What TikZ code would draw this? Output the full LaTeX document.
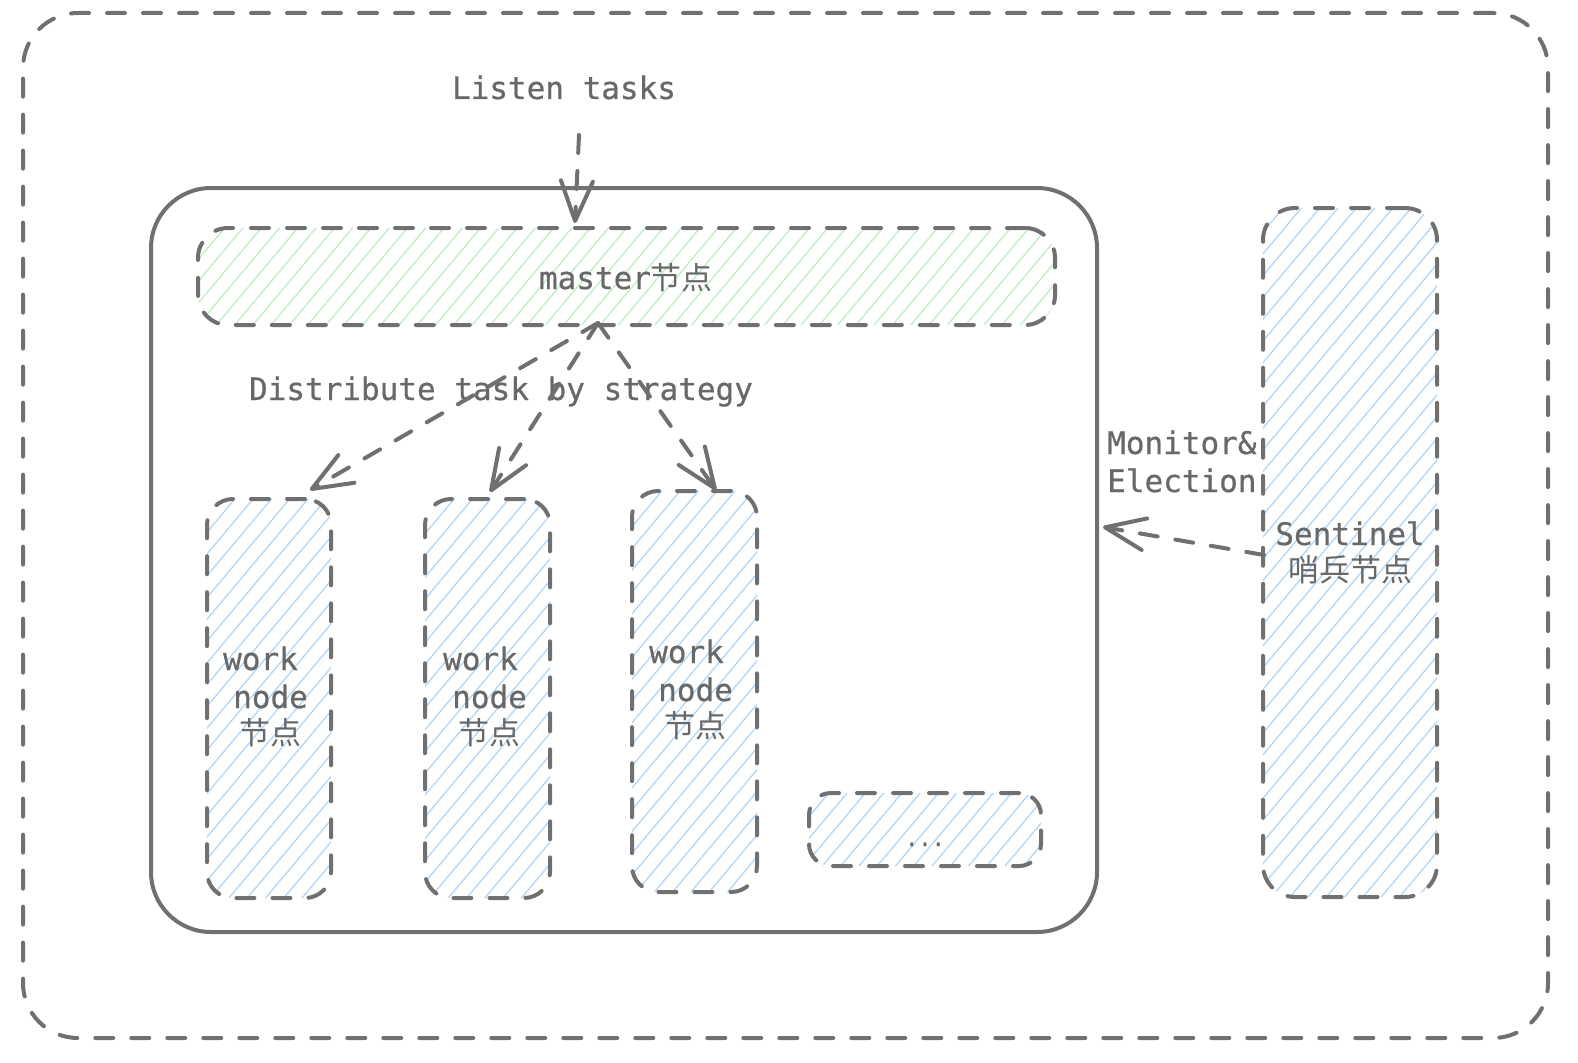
\documentclass[tikz,border=0pt]{standalone}
\usepackage{fontspec}
\newfontfamily\lblfont[FakeBold=0.6]{DejaVu Sans Mono}
\newfontfamily\cjk{Noto Sans CJK SC}
\usetikzlibrary{patterns.meta,arrows.meta}
\definecolor{lc}{RGB}{112,112,112}
\definecolor{tc}{RGB}{104,104,104}
\definecolor{hb}{RGB}{178,213,246}
\definecolor{hg}{RGB}{192,236,196}
\begin{document}
\begin{tikzpicture}[x=1pt,y=-1pt,
  dsh/.style={draw=lc,line width=4pt,dash pattern=on 18pt off 18pt,line cap=round},
  solidbox/.style={draw=lc,line width=4pt,rounded corners=60pt,inner sep=0pt},
  skbox/.style={dsh,rounded corners=26pt,inner sep=0pt,
    pattern={Lines[angle=50,distance=14pt,line width=1.3pt]},pattern color=hb},
  greenbox/.style={skbox,pattern color=hg,rounded corners=30pt},
  lbl/.style={text=tc,font=\lblfont\fontsize{31}{38}\selectfont,inner sep=0pt},
  arr/.style={dsh,-{Straight Barb[length=40pt,width=32pt,round]}}
]
\useasboundingbox (0,0) rectangle (1578,1062);

% outer frame
\node[dsh,rounded corners=55pt,minimum width=1525pt,minimum height=1025pt,inner sep=0pt] (outer) at (785.5,525.5) {};
% core box
\node[solidbox,minimum width=946pt,minimum height=744pt] (core) at (624,560) {};
% master
\node[greenbox,minimum width=857pt,minimum height=97pt] (master) at (626.5,276.5) {};
% work nodes
\node[skbox,minimum width=124pt,minimum height=399pt] (w1) at (269,698.5) {};
\node[skbox,minimum width=125pt,minimum height=399pt] (w2) at (487.5,698.5) {};
\node[skbox,minimum width=125pt,minimum height=401pt] (w3) at (694.5,691.5) {};
\node[skbox,rounded corners=22pt,minimum width=232pt,minimum height=73pt] (dots) at (925,829.5) {};
% sentinel
\node[skbox,rounded corners=32pt,minimum width=174pt,minimum height=689pt] (sent) at (1350,552.5) {};

% labels
\node[lbl,anchor=base] (tlisten) at (564,99) {Listen tasks};
\node[lbl,anchor=base] (tmaster) at (626,289) {master{\cjk 节点}};
\node[lbl,anchor=base] (tdist) at (501,400) {Distribute task by strategy};
\node[lbl,anchor=base west] (tmon) at (1107,454) {Monitor\&};
\node[lbl,anchor=base west] (telec) at (1107,492) {Election};
\node[lbl,anchor=base] (tsent) at (1350,545) {Sentinel};
\node[lbl,anchor=base] (tsent2) at (1350,581) {\cjk 哨兵节点};

\node[lbl,anchor=base west] (w1a) at (223,670) {work};
\node[lbl,anchor=base west] (w1b) at (233,708) {node};
\node[lbl,anchor=base west] (w1c) at (239,744) {\cjk 节点};
\node[lbl,anchor=base west] (w2a) at (443,670) {work};
\node[lbl,anchor=base west] (w2b) at (452,708) {node};
\node[lbl,anchor=base west] (w2c) at (458,744) {\cjk 节点};
\node[lbl,anchor=base west] (w3a) at (649,663) {work};
\node[lbl,anchor=base west] (w3b) at (658,701) {node};
\node[lbl,anchor=base west] (w3c) at (664,737) {\cjk 节点};
\node[lbl,anchor=base,font=\lblfont\fontsize{22}{26}\selectfont] (tdots) at (925,846) {...};

% connectors
\coordinate (lsrc) at (579,135);
\coordinate (ltip) at (575,223);
\draw[arr] (lsrc) -- (ltip);
\coordinate (msrc) at (598,323);
\coordinate (e1) at (310,490);
\coordinate (e2) at (490,492);
\coordinate (e3) at (716,490);
\draw[arr] (msrc) -- (e1);
\draw[arr] (msrc) -- (e2);
\draw[arr] (msrc) -- (e3);
\coordinate (ssrc) at (1264,555);
\coordinate (stip) at (1103,527);
\draw[arr] (ssrc) -- (stip);
\end{tikzpicture}
\end{document}
